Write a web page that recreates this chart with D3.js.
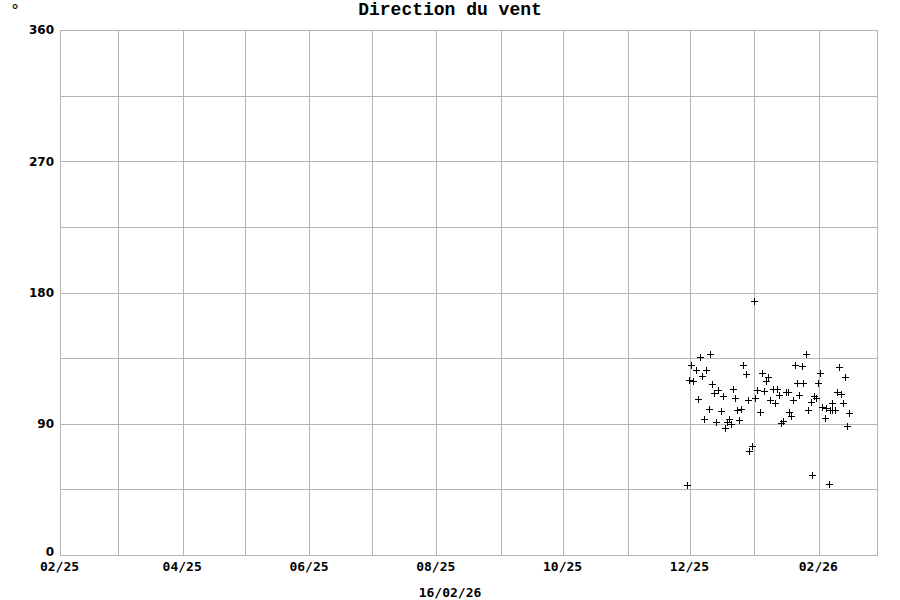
<!DOCTYPE html>
<html><head><meta charset="utf-8">
<script src="https://cdn.jsdelivr.net/npm/d3@7"></script>
<style>body{margin:0;background:#fff}svg{display:block}</style>
</head><body>
<svg id="c" width="900" height="600"></svg>
<script>
// ---- data ----
const title = "Direction du vent";
const unitLabel = "°";
const dateLabel = "16/02/26";
const xDomain = ["2025-02-01", "2026-03-01"];
const yTicks = [0, 90, 180, 270, 360];
const yGrid = [0, 45, 90, 135, 180, 225, 270, 315, 360];
const times = [
 "2025-11-29T18:00","2025-11-30T14:00","2025-12-01T09:00","2025-12-02T15:00","2025-12-03T20:00",
 "2025-12-04T19:00","2025-12-05T16:00","2025-12-06T17:00","2025-12-07T13:00","2025-12-08T14:00",
 "2025-12-09T23:00","2025-12-10T19:00","2025-12-11T18:00","2025-12-12T18:00","2025-12-13T17:00",
 "2025-12-14T10:00","2025-12-15T21:00","2025-12-16T18:00","2025-12-17T17:00","2025-12-19T02:00",
 "2025-12-19T14:00","2025-12-21T00:00","2025-12-21T22:00","2025-12-22T17:00","2025-12-23T19:00",
 "2025-12-24T15:00","2025-12-25T14:00","2025-12-26T15:00","2025-12-27T21:00","2025-12-28T19:00",
 "2025-12-29T14:00","2025-12-30T18:00","2025-12-31T20:00","2026-01-01T10:00","2026-01-02T12:00",
 "2026-01-03T20:00","2026-01-04T20:00","2026-01-05T19:00","2026-01-06T17:00","2026-01-07T14:00",
 "2026-01-08T15:00","2026-01-09T18:00","2026-01-10T20:00","2026-01-11T20:00","2026-01-12T17:00",
 "2026-01-13T20:00","2026-01-14T18:00","2026-01-16T03:00","2026-01-17T05:00","2026-01-17T18:00",
 "2026-01-18T20:00","2026-01-19T18:00","2026-01-20T13:00","2026-01-21T16:00","2026-01-22T17:00",
 "2026-01-23T20:00","2026-01-24T13:00","2026-01-25T17:00","2026-01-26T19:00","2026-01-28T03:00",
 "2026-01-28T18:00","2026-01-29T17:00","2026-01-30T16:00","2026-01-31T18:00","2026-02-01T14:00",
 "2026-02-02T17:00","2026-02-03T21:00","2026-02-04T15:00","2026-02-05T18:00","2026-02-06T04:00",
 "2026-02-07T09:00","2026-02-07T12:00","2026-02-08T19:00","2026-02-09T20:00","2026-02-10T21:00",
 "2026-02-11T16:00","2026-02-12T19:00","2026-02-13T17:00","2026-02-14T17:00","2026-02-15T16:00"
];
const directions = [
 48,120,130,119,127, 107,136,123,93,127, 100,138,117,111,91, 113,99,109,87,91,
 93,89.5,114,108,99.5, 92.5,100,130,124,106, 71,75,174,108,113, 98,125,112.6,119,122,
 106,114,104,114,110, 90.5,92,112,112,98, 95,106,130.6,118,110, 129.6,118,137.5,99.6,104.7,
 55,109,107.6,118,124.5, 101.6,94,101,48.5,99.6, 99.3,104.3,99.3,111.6,129, 110.3,104,121.8,88.8,97.7
];

// ---- chart ----
const svg = d3.select("#c");
const m = {left: 60, right: 877, top: 30, bottom: 555};
const parse = d3.isoParse;
const x = d3.scaleTime().domain(xDomain.map(parse)).range([m.left, m.right]);
const y = d3.scaleLinear().domain([0, 360]).range([m.bottom, m.top]);
const gridColor = "#b4b4b4";

// vertical month gridlines
const months = d3.timeMonth.range(x.domain()[0], d3.timeDay.offset(x.domain()[1], 1));
svg.append("g").selectAll("line").data(months).join("line")
  .attr("x1", d => Math.round(x(d)) + 0.5).attr("x2", d => Math.round(x(d)) + 0.5)
  .attr("y1", m.top).attr("y2", m.bottom)
  .attr("stroke", gridColor).attr("stroke-width", 1);

// horizontal gridlines
svg.append("g").selectAll("line").data(yGrid).join("line")
  .attr("x1", m.left).attr("x2", m.right)
  .attr("y1", d => Math.round(y(d)) + 0.5).attr("y2", d => Math.round(y(d)) + 0.5)
  .attr("stroke", gridColor).attr("stroke-width", 1);

// frame
svg.append("rect").attr("x", m.left + 0.5).attr("y", m.top + 0.5)
  .attr("width", m.right - m.left).attr("height", m.bottom - m.top)
  .attr("fill", "none").attr("stroke", gridColor);

// y axis labels
const yAxis = d3.axisLeft(y).tickValues(yTicks).tickSize(0).tickPadding(6);
const gy = svg.append("g").attr("transform", `translate(${m.left},0)`).call(yAxis);
gy.select(".domain").remove();
gy.selectAll("text").attr("font-family", "DejaVu Sans").attr("font-weight", "bold")
  .attr("font-size", 12).attr("fill", "#000");
gy.selectAll(".tick").filter(d => d === 0).select("text").attr("dy", "0.05em");

// x axis labels (every 2 months)
const xTickVals = months.filter((d, i) => i % 2 === 0 && d < x.domain()[1]);
const xAxis = d3.axisBottom(x).tickValues(xTickVals).tickFormat(d3.timeFormat("%m/%y"))
  .tickSize(0).tickPadding(7);
const gx = svg.append("g").attr("transform", `translate(0,${m.bottom})`).call(xAxis);
gx.select(".domain").remove();
gx.selectAll("text").attr("font-family", "DejaVu Sans Mono").attr("font-weight", "bold")
  .attr("font-size", 13).attr("fill", "#000").attr("transform", "translate(-1,0)");

// date label
svg.append("text").attr("x", 450).attr("y", 597).attr("text-anchor", "middle")
  .attr("font-family", "DejaVu Sans Mono").attr("font-weight", "bold").attr("font-size", 13)
  .text(dateLabel);

// title
svg.append("text").attr("x", 450).attr("y", 15).attr("text-anchor", "middle")
  .attr("font-family", "Liberation Mono").attr("font-weight", "bold").attr("font-size", 18)
  .text(title);

// unit
svg.append("text").attr("x", 15).attr("y", 16).attr("text-anchor", "middle")
  .attr("font-family", "DejaVu Sans Mono").attr("font-size", 16)
  .text(unitLabel);

// points as "+"
const data = times.map((t, i) => ({t: parse(t), v: directions[i]}));
const s = 3.5;
svg.append("g").selectAll("path").data(data).join("path")
  .attr("d", d => {
    const px = Math.round(x(d.t)) + 0.5, py = Math.round(y(d.v)) + 0.5;
    return `M${px - s},${py}H${px + s}M${px},${py - s}V${py + s}`;
  })
  .attr("stroke", "#000").attr("stroke-width", 1).attr("fill", "none");
</script>
</body></html>
